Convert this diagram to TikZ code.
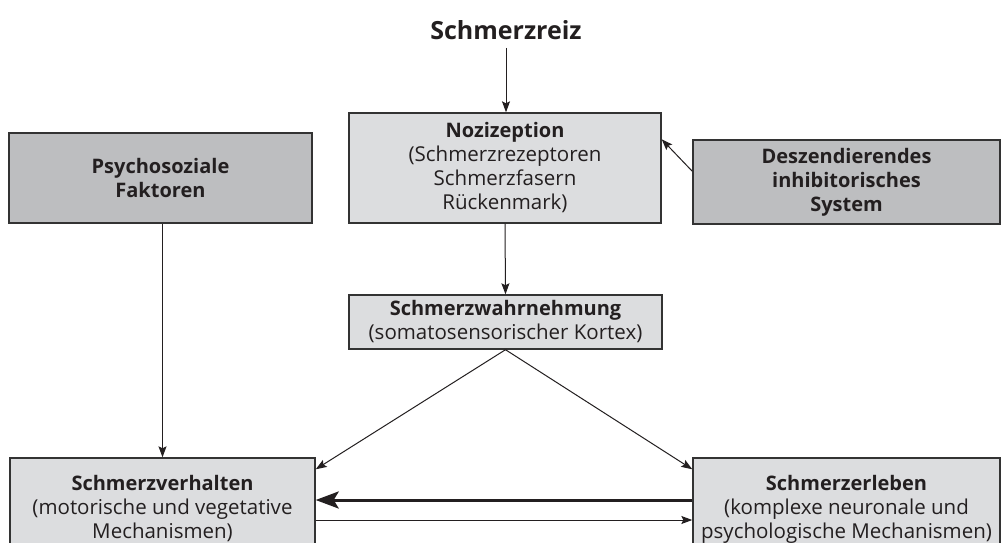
\documentclass[tikz,border=0pt]{standalone}
\usepackage{fontspec}
\setmainfont{Open Sans}
\usetikzlibrary{arrows.meta,calc}
\definecolor{lightbox}{HTML}{DCDDDF}
\definecolor{darkbox}{HTML}{BDBEC0}
\definecolor{edgec}{HTML}{333333}
\definecolor{ink}{HTML}{231F20}
\newcommand{\hdline}[1]{{\fontsize{20}{24}\selectfont\bfseries #1}}
\begin{document}
\begin{tikzpicture}[x=1pt,y=-1pt,
  box/.style={draw=edgec, line width=1.4pt, inner sep=0pt, align=center, text=ink,
    font=\fontsize{20.5}{24}\selectfont},
  lbox/.style={box, fill=lightbox},
  dbox/.style={box, fill=darkbox},
  conn/.style={draw=ink, line width=1pt, -{Stealth[length=11pt,width=8pt,inset=2pt]}},
  thickconn/.style={draw=ink, line width=3pt, -{Stealth[length=23pt,width=17pt,inset=5pt]}}]
\useasboundingbox (0,0) rectangle (1001,543);
\clip (0,0) rectangle (1001,543);
\fill[white] (0,0) rectangle (1001,543);

\node[text=ink, font=\fontsize{25}{28}\selectfont\bfseries, inner sep=0pt] (reiz) at (506,30) {Schmerzreiz};

\node[lbox, minimum width=312pt, minimum height=110pt] (noz) at (505,168)
  {\hdline{Nozizeption}\\(Schmerzrezeptoren\\Schmerzfasern\\Rückenmark)};
\node[dbox, minimum width=303pt, minimum height=90pt] (psy) at (160.5,178)
  {\hdline{Psychosoziale}\\\hdline{Faktoren}};
\node[dbox, minimum width=307pt, minimum height=84pt] (desz) at (846.5,182)
  {\hdline{Deszendierendes}\\\hdline{inhibitorisches}\\\hdline{System}};
\node[lbox, minimum width=313pt, minimum height=54pt] (wahr) at (505.5,322)
  {\hdline{Schmerzwahrnehmung}\\(somatosensorischer Kortex)};
\node[lbox, minimum width=305pt, minimum height=102pt] (verh) at (162.5,509)
  {\hdline{Schmerzverhalten}\\(motorische und vegetative\\Mechanismen)};
\node[lbox, minimum width=307pt, minimum height=102pt] (erl) at (846.5,509)
  {\hdline{Schmerzerleben}\\(komplexe neuronale und\\psychologische Mechanismen)};

\draw[conn] (reiz.south |- 0,48) -- (noz.north -| reiz.south);
\draw[conn] ($(desz.north west)+(0,32)$) -- ($(noz.north east)+(0,27)$);
\draw[conn] (noz.south) -- (wahr.north);
\draw[conn] (verh.north |- psy.south) -- (verh.north);
\coordinate (apex) at (wahr.south);
\draw[conn] (apex) -- ($(verh.north east)+(0,12)$);
\draw[conn] (apex) -- ($(erl.north west)+(0,12)$);
\draw[thickconn] ($(erl.west)+(0,-9)$) -- ($(verh.east)+(0,-9)$);
\draw[conn] ($(verh.east)+(0,11)$) -- ($(erl.west)+(0,11)$);
\end{tikzpicture}
\end{document}
